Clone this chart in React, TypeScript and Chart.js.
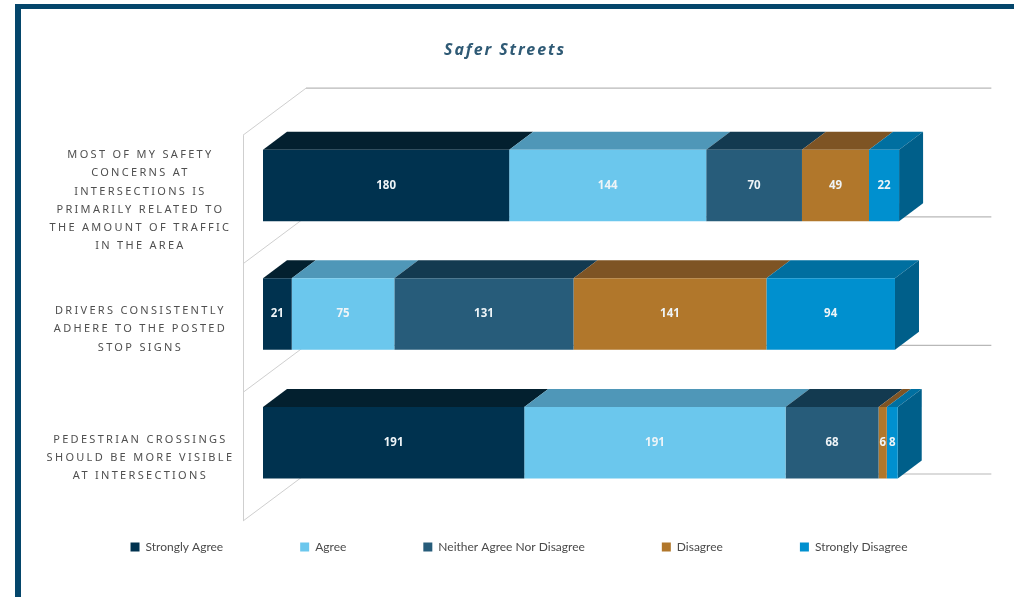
import { useEffect, useRef } from "react";
import { Chart, registerables } from "chart.js";

Chart.register(...registerables);

const title = "Safer Streets";
const categories = [
  ["MOST OF MY SAFETY", "CONCERNS AT", "INTERSECTIONS IS", "PRIMARILY RELATED TO", "THE AMOUNT OF TRAFFIC", "IN THE AREA"],
  ["DRIVERS CONSISTENTLY", "ADHERE TO THE POSTED", "STOP SIGNS"],
  ["PEDESTRIAN CROSSINGS", "SHOULD BE MORE VISIBLE", "AT INTERSECTIONS"],
];
const stronglyAgree = [180, 21, 191];
const agree = [144, 75, 191];
const neither = [70, 131, 68];
const disagree = [49, 141, 6];
const stronglyDisagree = [22, 94, 8];

const FRONT = ["#00324f", "#6bc7ed", "#275c7a", "#b1772b", "#0090cf"];
const TOP = ["#03202f", "#4f97b8", "#133a50", "#7e5424", "#006fa0"];
const SIDE = "#005f8a";
const DEPTH = { dx: 24, dy: 18 };
const WALL = { frontDx: -20, frontDy: 14, backDx: 43, backDy: -33 };
const WALL_VALUE = 501;
const LEGEND_HEIGHT = 90;
const FONT_TEXT = "'Noto Sans'";

const depth3d = {
  id: "depth3d",
  beforeLayout(chart: any) {
    const legend = chart.legend;
    if (!legend.__fitPatched) {
      legend.__fitPatched = true;
      const fit = legend.fit.bind(legend);
      legend.fit = () => {
        fit();
        legend.height = LEGEND_HEIGHT;
      };
    }
  },
  afterLayout(chart: any) {
    chart.titleBlock.left -= 15;
    chart.titleBlock.right -= 15;
    chart.legend.top -= 43;
    chart.legend.bottom -= 43;
    chart.legend.left -= 1;
    chart.legend.right -= 1;
  },
  beforeDraw(chart: any) {
    const ctx = chart.ctx;
    ctx.save();
    ctx.fillStyle = "#ffffff";
    ctx.fillRect(0, 0, chart.width, chart.height);
    ctx.fillStyle = "#04466b";
    ctx.fillRect(15, 4, chart.width - 15, 5);
    ctx.fillRect(15, 4, 6, chart.height - 4);
    ctx.restore();
    const spaced = (box: any, fn: string, spacing: string) => {
      if (box["__w" + fn]) return;
      box["__w" + fn] = true;
      const orig = box[fn].bind(box);
      box[fn] = (...args: any[]) => {
        ctx.letterSpacing = spacing;
        orig(...args);
        ctx.letterSpacing = "0px";
      };
    };
    spaced(chart.titleBlock, "draw", "1.9px");
    spaced(chart.scales.y, "drawLabels", "2.3px");
  },
  beforeDatasetsDraw(chart: any) {
    const ctx = chart.ctx;
    const y = chart.scales.y;
    const x = chart.scales.x;
    const band = (y.bottom - y.top) / categories.length;
    ctx.save();
    ctx.lineWidth = 1;
    const left = x.left;
    const backX = left + WALL.backDx;
    const frontX = left + WALL.frontDx;
    ctx.strokeStyle = "#cfcfcf";
    ctx.beginPath();
    ctx.moveTo(frontX + 0.5, y.top + WALL.frontDy);
    ctx.lineTo(frontX + 0.5, y.bottom + WALL.frontDy);
    ctx.stroke();
    for (let k = 0; k <= categories.length; k++) {
      const base = y.top + k * band;
      ctx.strokeStyle = "#cfcfcf";
      ctx.beginPath();
      ctx.moveTo(frontX, base + WALL.frontDy);
      ctx.lineTo(backX, base + WALL.backDy);
      ctx.stroke();
      ctx.strokeStyle = "#b8b8b8";
      ctx.lineWidth = 1.2;
      ctx.beginPath();
      ctx.moveTo(backX, base + WALL.backDy);
      ctx.lineTo(x.getPixelForValue(WALL_VALUE) + WALL.backDx, base + WALL.backDy);
      ctx.stroke();
      ctx.lineWidth = 1;
    }
    chart.data.datasets.forEach((_: any, i: number) => {
      chart.getDatasetMeta(i).data.forEach((bar: any) => {
        const { x: end, base, y: cy, height } = bar.getProps(["x", "base", "y", "height"], true);
        const topY = cy - height / 2;
        ctx.fillStyle = TOP[i];
        ctx.beginPath();
        ctx.moveTo(base, topY);
        ctx.lineTo(base + DEPTH.dx, topY - DEPTH.dy);
        ctx.lineTo(end + DEPTH.dx, topY - DEPTH.dy);
        ctx.lineTo(end, topY);
        ctx.closePath();
        ctx.fill();
        if (i === chart.data.datasets.length - 1) {
          ctx.fillStyle = SIDE;
          ctx.beginPath();
          ctx.moveTo(end, topY);
          ctx.lineTo(end + DEPTH.dx, topY - DEPTH.dy);
          ctx.lineTo(end + DEPTH.dx, topY - DEPTH.dy + height);
          ctx.lineTo(end, topY + height);
          ctx.closePath();
          ctx.fill();
        }
      });
    });
    ctx.restore();
  },
  afterDatasetsDraw(chart: any) {
    const ctx = chart.ctx;
    ctx.save();
    ctx.font = `700 11.5px ${FONT_TEXT}`;
    ctx.fillStyle = "#eef4f7";
    ctx.textAlign = "center";
    ctx.textBaseline = "middle";
    chart.data.datasets.forEach((ds: any, i: number) => {
      chart.getDatasetMeta(i).data.forEach((bar: any, j: number) => {
        const { x: end, base, y: cy } = bar.getProps(["x", "base", "y"], true);
        ctx.fillText(String(ds.data[j]), (base + end) / 2, cy);
      });
    });
    ctx.restore();
  },
};

const seriesNames = ["Strongly Agree", "Agree", "Neither Agree Nor Disagree", "Disagree", "Strongly Disagree"];
const seriesValues = [stronglyAgree, agree, neither, disagree, stronglyDisagree];

export default function App() {
  const ref = useRef<HTMLCanvasElement>(null);
  useEffect(() => {
    const chart = new Chart(ref.current!, {
      type: "bar",
      data: {
        labels: categories as any,
        datasets: seriesNames.map((name, i) => ({
          label: name,
          data: seriesValues[i],
          backgroundColor: FRONT[i],
          borderWidth: 0,
          barPercentage: 0.556,
          categoryPercentage: 1,
        })),
      },
      options: {
        indexAxis: "y",
        responsive: false,
        animation: false,
        layout: { padding: { left: 26, right: 0, top: 0, bottom: 0 } },
        scales: {
          x: { stacked: true, min: 0, max: 549, display: false },
          y: {
            stacked: true,
            grid: { display: false, drawTicks: false },
            border: { display: false },
            afterFit(scale: any) {
              scale.width = 237;
              scale.paddingTop = 0;
              scale.paddingBottom = 0;
            },
            ticks: {
              autoSkip: false,
              crossAlign: "center",
              padding: 54,
              labelOffset: 15,
              color: "#4f4f4f",
              font: { family: FONT_TEXT, size: 11, lineHeight: 1.66 },
            },
          },
        },
        plugins: {
          title: {
            display: true,
            text: title,
            color: "#2f5a75",
            font: { family: FONT_TEXT, size: 16, weight: "bold", style: "italic", lineHeight: 1.2 },
            padding: { top: 41, bottom: 61 },
          },
          legend: {
            display: true,
            position: "bottom",
            labels: {
              boxWidth: 9,
              boxHeight: 9,
              padding: 77,
              color: "#4a4a4a",
              font: { family: "Lato", size: 12 },
            },
          },
          tooltip: { enabled: false },
        },
      },
      plugins: [depth3d],
    } as any);
    return () => chart.destroy();
  }, []);
  return (
    <div style={{ position: "fixed", left: 0, top: 0, width: 1014, height: 597, overflow: "hidden" }}>
      <canvas ref={ref} width={1014} height={597} style={{ display: "block" }} />
    </div>
  );
}
